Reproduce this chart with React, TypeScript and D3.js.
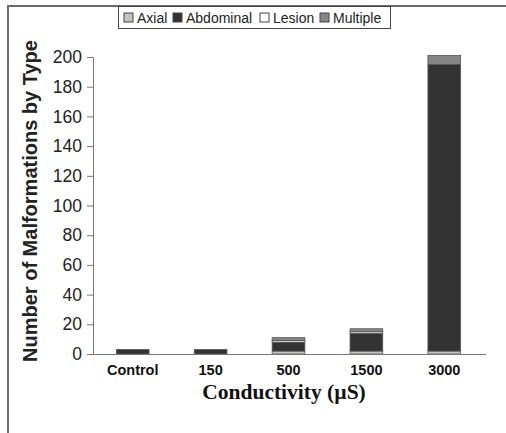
import React, { useEffect, useRef } from "react";
import * as d3 from "d3";

const categories = ["Control", "150", "500", "1500", "3000"];
const seriesNames = ["Axial", "Abdominal", "Lesion", "Multiple"];
const axial = [0, 0, 2, 2, 2];
const abdominal = [3, 3, 6, 12, 193];
const lesion = [0, 0, 1, 1, 0];
const multiple = [0, 0, 2, 2, 6];
const yTicks = [0, 20, 40, 60, 80, 100, 120, 140, 160, 180, 200];
const colors = ["#c4c4c4", "#333333", "#ffffff", "#858585"];

const W = 506;
const H = 433;

export default function App() {
  const ref = useRef<SVGSVGElement | null>(null);

  useEffect(() => {
    const svg = d3.select(ref.current);
    svg.selectAll("*").remove();

    const margin = { top: 57, right: 22, bottom: 79, left: 93 };
    const rows = categories.map((c, i) => ({
      cat: c,
      Axial: axial[i],
      Abdominal: abdominal[i],
      Lesion: lesion[i],
      Multiple: multiple[i],
    }));

    const x = d3.scaleBand()
      .domain(categories)
      .range([margin.left, W - margin.right])
      .paddingInner(0.58)
      .paddingOuter(0.3);

    const y = d3.scaleLinear()
      .domain([0, 200])
      .range([H - margin.bottom, margin.top]);

    // outer frame
    svg.append("path")
      .attr("d", `M8,${H} L8,6 L${W},6`)
      .attr("fill", "none")
      .attr("stroke", "#6a6a6a")
      .attr("stroke-width", 2);

    const stack = d3.stack<any>().keys(seriesNames)(rows);

    svg.append("g")
      .selectAll("g")
      .data(stack)
      .join("g")
      .attr("fill", (d, i) => colors[i])
      .selectAll("rect")
      .data(d => d.filter(p => p[1] - p[0] > 0))
      .join("rect")
      .attr("x", d => x(d.data.cat)!)
      .attr("width", x.bandwidth())
      .attr("y", d => y(d[1]))
      .attr("height", d => y(d[0]) - y(d[1]))
      .attr("stroke", "#555")
      .attr("stroke-width", 0.8);

    const yAxis = svg.append("g")
      .attr("transform", `translate(${margin.left},0)`)
      .call(d3.axisLeft(y).tickValues(yTicks).tickSize(6).tickPadding(5));
    yAxis.select(".domain").attr("stroke", "#777");
    yAxis.selectAll(".tick line").attr("stroke", "#777");
    yAxis.selectAll("text")
      .attr("font-family", "Liberation Sans, Arial, sans-serif")
      .attr("font-size", 17.5)
      .attr("fill", "#222");

    const xAxis = svg.append("g")
      .attr("transform", `translate(0,${H - margin.bottom})`)
      .call(d3.axisBottom(x).tickSize(0).tickPadding(11).tickSizeOuter(0));
    xAxis.select(".domain").attr("stroke", "#777").attr("d", `M${margin.left},0.5H${W - margin.right + 2}`);
    xAxis.selectAll("text")
      .attr("font-family", "Liberation Sans, Arial, sans-serif")
      .attr("font-weight", "bold")
      .attr("font-size", 14.5)
      .attr("fill", "#111");

    svg.append("text")
      .attr("x", 284)
      .attr("y", 399)
      .attr("text-anchor", "middle")
      .attr("font-family", "Liberation Serif, Times New Roman, serif")
      .attr("font-weight", "bold")
      .attr("font-size", 21.5)
      .attr("fill", "#111")
      .text("Conductivity (µS)");

    svg.append("text")
      .attr("transform", `translate(37,${201}) rotate(-90)`)
      .attr("text-anchor", "middle")
      .attr("font-family", "Liberation Sans, Arial, sans-serif")
      .attr("font-weight", "bold")
      .attr("font-size", 20)
      .attr("fill", "#222")
      .text("Number of Malformations by Type");

    // legend
    const lg = svg.append("g");
    lg.append("rect")
      .attr("x", 118.5).attr("y", 6.5)
      .attr("width", 272).attr("height", 22)
      .attr("fill", "#fff")
      .attr("stroke", "#444");
    const swatchX = [124, 173, 260, 320];
    seriesNames.forEach((s, i) => {
      lg.append("rect")
        .attr("x", swatchX[i]).attr("y", 13)
        .attr("width", 9).attr("height", 9)
        .attr("fill", colors[i])
        .attr("stroke", "#444");
      lg.append("text")
        .attr("x", swatchX[i] + 13).attr("y", 22.5)
        .attr("font-family", "Liberation Sans, Arial, sans-serif")
        .attr("font-size", 14)
        .attr("fill", "#222")
        .text(s);
    });
  }, []);

  return (
    <svg ref={ref} width={W} height={H}
      style={{ position: "absolute", left: 0, top: 0, background: "#fff" }} />
  );
}
